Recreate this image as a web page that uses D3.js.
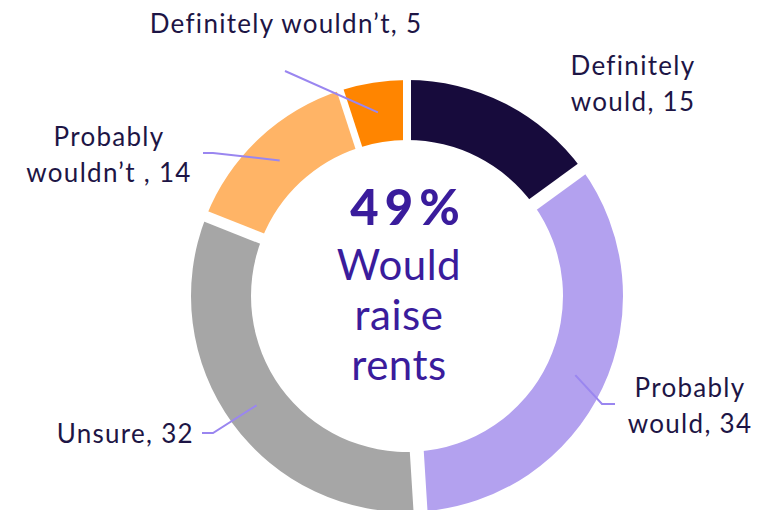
<!DOCTYPE html>
<html>
<head>
<meta charset="utf-8">
<script src="https://cdn.jsdelivr.net/npm/d3@7"></script>
<style>
  html, body { margin: 0; padding: 0; background: #fff; }
  svg { display: block; }
  text { font-family: Lato, "Noto Sans", sans-serif; }
</style>
</head>
<body>
<svg id="chart" width="764" height="510"></svg>
<script>
// Survey answers, clockwise from 12 o'clock
const categories = ["Definitely would", "Probably would", "Unsure", "Probably wouldn\u2019t", "Definitely wouldn\u2019t"];
const values = [15, 34, 32, 14, 5];
const labelLines = [
  ["Definitely", "would, 15"],
  ["Probably", "would, 34"],
  ["Unsure, 32"],
  ["Probably", "wouldn\u2019t , 14"],
  ["Definitely wouldn\u2019t, 5"]
];
const headline = "49%";
const subline = ["Would", "raise", "rents"];

// Styling
const colors = ["#170b3c", "#b3a1ef", "#a6a6a6", "#ffb466", "#ff8500"];
const textColor = "#1d1545";
const accent = "#3a1c9c";
const leaderColor = "#9a86f0";
// white gap drawn along each slice boundary (starting edge of each slice)
const gapWidths = [8, 13, 14, 11, 7];

const cx = 407, cy = 296;
const rOuter = 216, rInner = 156;

// label anchors and leader elbows
const labelLayout = [
  { x: 633, y: 75, anchor: "middle", leader: null },
  { x: 690, y: 397, anchor: "middle", leader: [[602, 404], [615, 404]] },
  { x: 194, y: 443, anchor: "end", leader: [[213, 433], [202, 433]] },
  { x: 109, y: 146, anchor: "middle", leader: [[213, 153], [203, 153]] },
  { x: 286, y: 33, anchor: "middle", leader: [[285, 71]] }
];

const svg = d3.select("#chart");
const g = svg.append("g").attr("transform", `translate(${cx},${cy})`);

const pie = d3.pie().sort(null).value(d => d.value);
const arcs = pie(categories.map((c, i) => ({ name: c, value: values[i], i })));

const arc = d3.arc().innerRadius(rInner).outerRadius(rOuter);
const mid = d3.arc().innerRadius((rInner + rOuter) / 2).outerRadius((rInner + rOuter) / 2);

g.selectAll("path.slice")
  .data(arcs)
  .join("path")
  .attr("class", "slice")
  .attr("d", arc)
  .attr("fill", d => colors[d.data.i]);

// gaps between slices
g.selectAll("line.gap")
  .data(arcs)
  .join("line")
  .attr("class", "gap")
  .attr("x1", d => Math.sin(d.startAngle) * (rInner - 5))
  .attr("y1", d => -Math.cos(d.startAngle) * (rInner - 5))
  .attr("x2", d => Math.sin(d.startAngle) * (rOuter + 5))
  .attr("y2", d => -Math.cos(d.startAngle) * (rOuter + 5))
  .attr("stroke", "#fff")
  .attr("stroke-width", d => gapWidths[d.data.i]);

// leader lines from slice centroids to labels
const line = d3.line();
arcs.forEach(d => {
  const lay = labelLayout[d.data.i];
  if (!lay.leader) return;
  const [mx, my] = mid.centroid(d);
  const pts = [[cx + mx, cy + my]].concat(lay.leader);
  svg.append("path")
    .attr("d", line(pts))
    .attr("fill", "none")
    .attr("stroke", leaderColor)
    .attr("stroke-width", 2);
});

// slice labels
arcs.forEach(d => {
  const lay = labelLayout[d.data.i];
  const t = svg.append("text")
    .attr("x", lay.x)
    .attr("y", lay.y)
    .attr("text-anchor", lay.anchor)
    .attr("fill", textColor)
    .style("font-size", "26px")
    .style("letter-spacing", "1.3px");
  labelLines[d.data.i].forEach((s, k) => {
    t.append("tspan").attr("x", lay.x).attr("dy", k === 0 ? 0 : 35.5).text(s);
  });
});

// centre text
svg.append("text")
  .attr("x", 408).attr("y", 225)
  .attr("text-anchor", "middle")
  .attr("fill", accent)
  .style("font-size", "49px")
  .style("font-weight", "900")
  .style("letter-spacing", "6px")
  .text(headline);

svg.selectAll("text.sub")
  .data(subline)
  .join("text")
  .attr("class", "sub")
  .attr("x", 399)
  .attr("y", (d, i) => 280 + i * 50)
  .attr("text-anchor", "middle")
  .attr("fill", accent)
  .style("font-size", "42px")
  .style("letter-spacing", "0.5px")
  .text(d => d);
</script>
</body>
</html>
